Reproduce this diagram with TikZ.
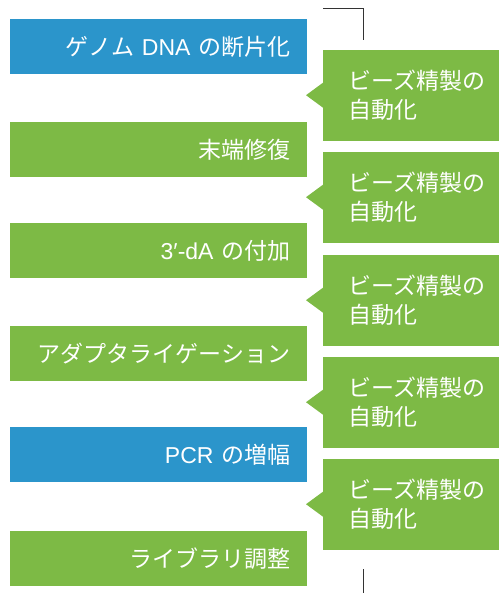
\documentclass[tikz,border=0pt]{standalone}
\usepackage{fontspec}
\setmainfont{Noto Sans CJK JP}
\newfontfamily\latn{Liberation Sans}
\definecolor{bblue}{HTML}{2B95CB}
\definecolor{bgreen}{HTML}{7DBA45}
\definecolor{lgray}{HTML}{333333}
\tikzset{
  stepbox/.style={anchor=north west, minimum width=297pt, minimum height=55pt,
    inner xsep=17pt, inner ysep=0pt, text width=263pt, align=right,
    text=white, font=\fontsize{23}{27}\selectfont},
  bluebox/.style={stepbox, fill=bblue},
  greenbox/.style={stepbox, fill=bgreen},
  beadbox/.style={anchor=north west, fill=bgreen, minimum width=176pt,
    minimum height=91pt, inner xsep=25pt, inner ysep=0pt, text width=126pt,
    align=left, text=white, font=\fontsize{23}{29}\selectfont},
  notch/.style={fill=bgreen},
  rail/.style={draw=lgray, line width=1pt}
}
\begin{document}
\begin{tikzpicture}[x=1pt,y=-1pt]
\useasboundingbox (0,0) rectangle (499,593);
% left steps
\node[bluebox]  (s1) at (10,19)  {ゲノム {\latn DNA} の断片化};
\node[greenbox] (s2) at (10,122) {末端修復};
\node[greenbox] (s3) at (10,223) {{\latn 3′-dA} の付加};
\node[greenbox] (s4) at (10,326) {アダプタライゲーション};
\node[bluebox]  (s5) at (10,427) {{\latn PCR} の増幅};
\node[greenbox] (s6) at (10,531) {ライブラリ調整};
% right bead boxes
\foreach \i/\y in {1/50,2/152,3/255,4/357,5/459}{
  \node[beadbox] (b\i) at (323,\y) {ビーズ精製の\\自動化};
  \fill[notch] (b\i.west) ++(0,-13) -- ++(-17,12.5) -- ++(17,12.5) -- cycle;
}
% rails
\coordinate (t0) at (323,9);
\coordinate (t1) at (363,9);
\coordinate (t2) at (363,40);
\coordinate (u1) at (363,569);
\coordinate (u2) at (363,593);
\draw[rail] (t0) -- (t1) -- (t2);
\draw[rail] (u1) -- (u2);
\end{tikzpicture}
\end{document}
